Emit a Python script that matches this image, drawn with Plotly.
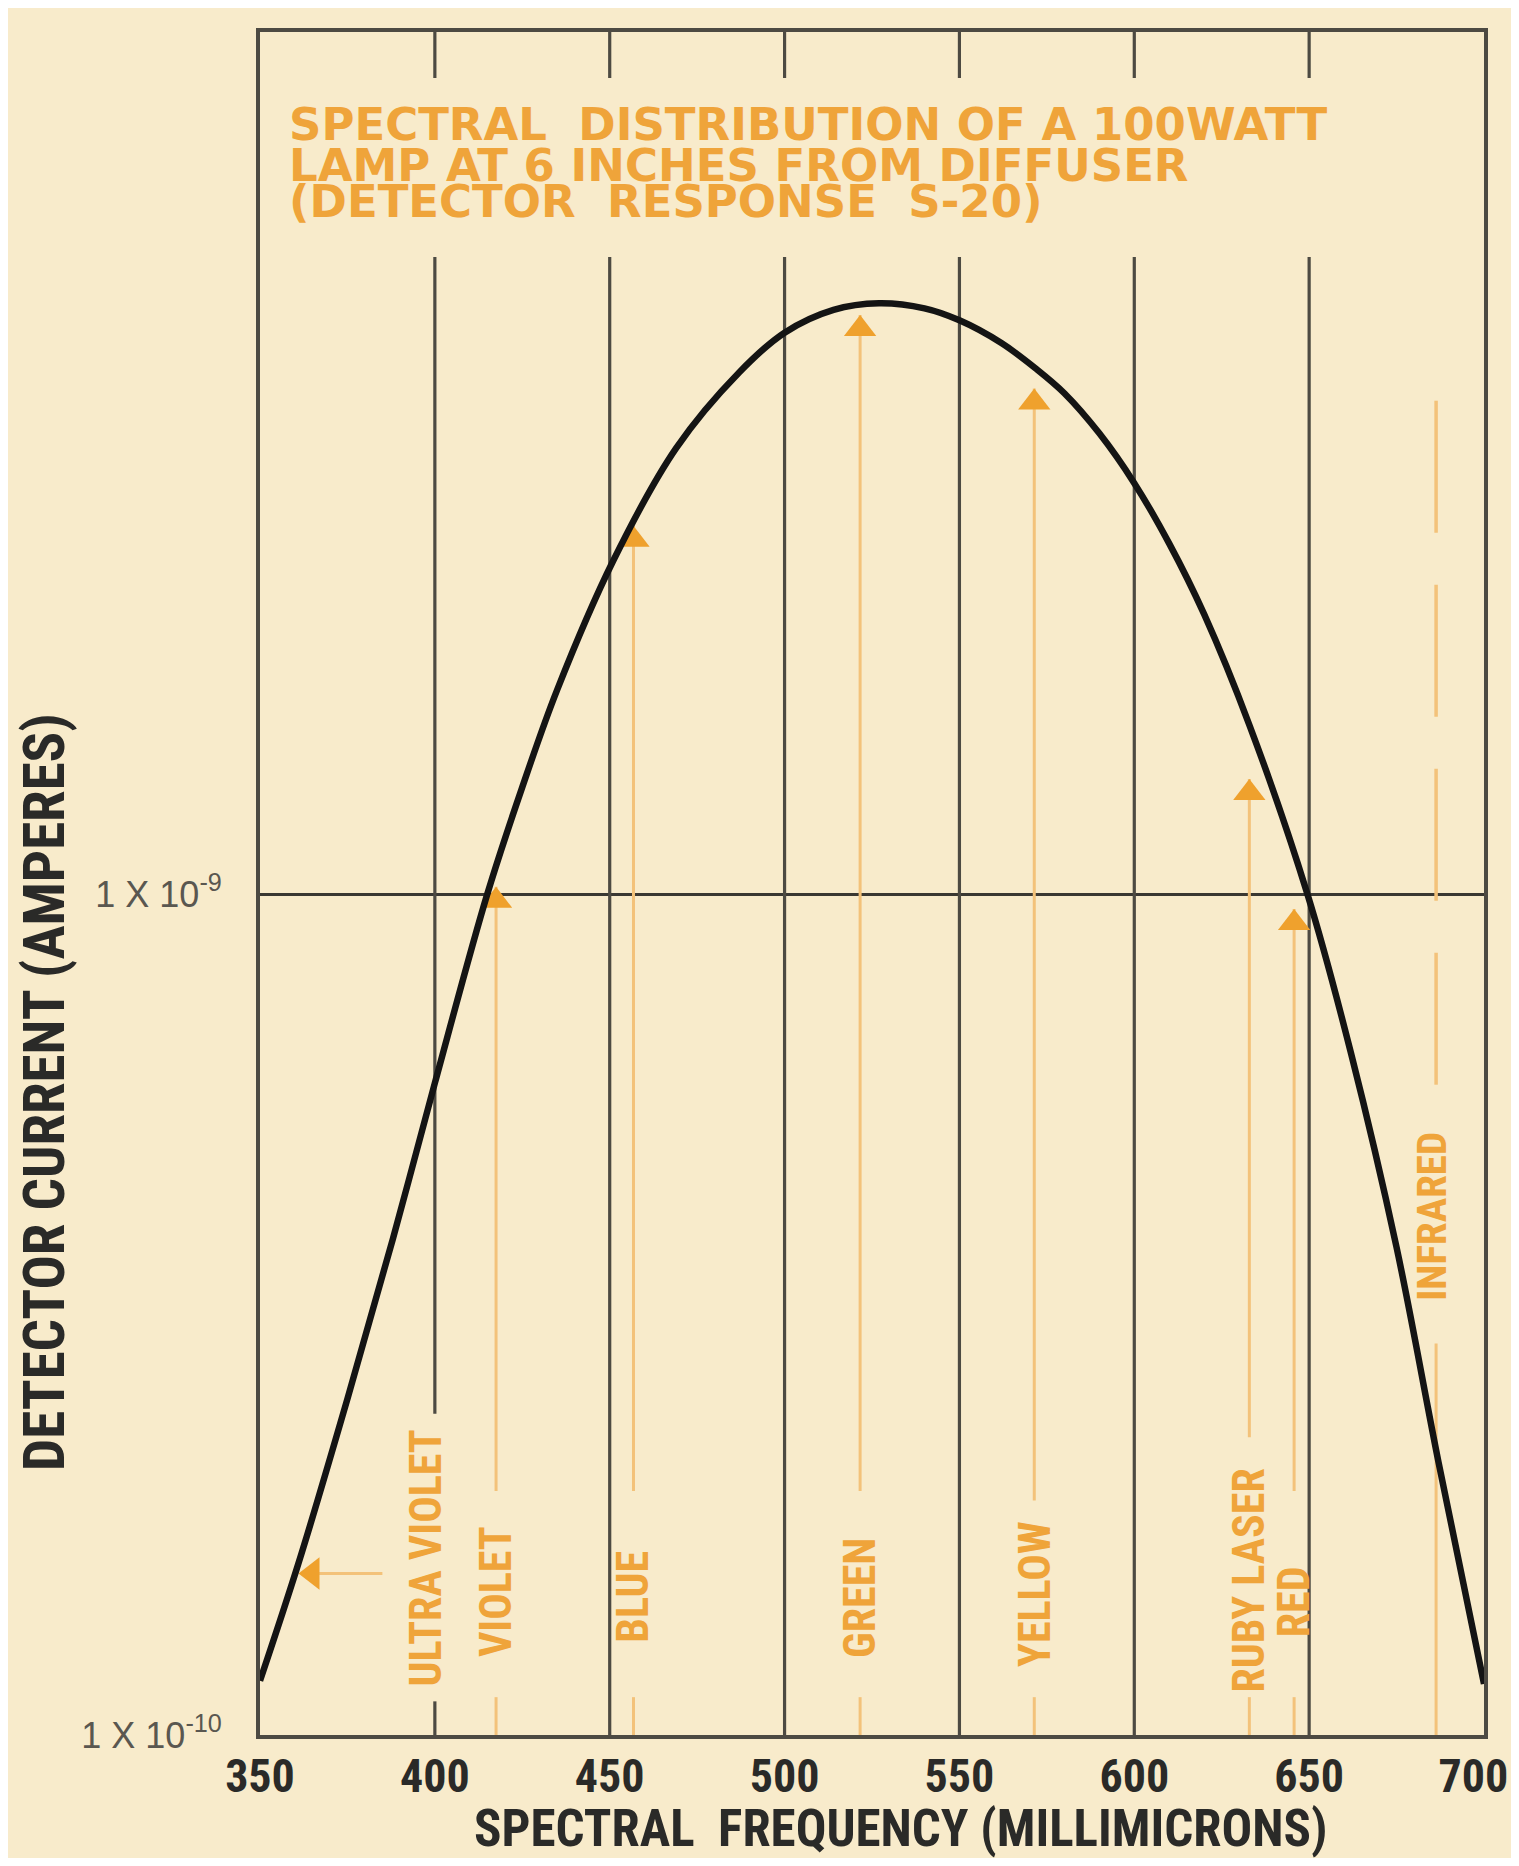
import plotly.graph_objects as go

# ---------------- data ----------------
wavelength_nm = [350, 361, 375, 388, 400, 415, 425, 435, 451, 469, 487, 500, 514, 527,
                 540, 550, 562, 572, 580, 590, 600, 610, 620, 633, 649.5, 662, 675, 687, 700]
current_a = [1.16e-10, 1.60e-10, 2.51e-10, 3.89e-10, 5.96e-10, 1.00e-9, 1.34e-9,
             1.75e-9, 2.49e-9, 3.39e-9, 4.17e-9, 4.65e-9, 4.95e-9, 5.04e-9, 4.97e-9,
             4.81e-9, 4.52e-9, 4.21e-9, 3.94e-9, 3.53e-9, 3.08e-9, 2.61e-9, 2.15e-9,
             1.585e-9, 1.00e-9, 6.46e-10, 3.80e-10, 2.11e-10, 1.15e-10]

x_ticks = [350, 400, 450, 500, 550, 600, 650, 700]
x_tick_labels = ["350", "400", "450", "500", "550", "600", "650", "700\u00a0\u00a0"]
y_ticks = [1e-10, 1e-9]
y_tick_labels = ["1 X 10<sup>-10</sup>", "1 X 10<sup>-9</sup>"]

band_names = ["VIOLET", "BLUE", "GREEN", "YELLOW", "RUBY LASER", "RED"]
band_nm = [417.5, 456.8, 521.6, 571.4, 632.9, 645.7]
band_tip_a = [1.02e-9, 2.74e-9, 4.88e-9, 3.99e-9, 1.37e-9, 9.6e-10]
band_line_end_a = [1.95e-10, 1.95e-10, 1.95e-10, 1.90e-10, 2.26e-10, 1.95e-10]
band_label_log = [-9.83, -9.835, -9.837, -9.832, -9.816, -9.842]

uv_name = "ULTRA VIOLET"
uv_tip_nm = 361.0
uv_tail_nm = 385.0
uv_level_a = 1.556e-10
uv_label_nm = 397.5
uv_label_log = -9.79

ir_name = "INFRARED"
ir_nm = 686.3
ir_dash_top_a = 3.86e-9
ir_dash_bottom_a = 5.87e-10
ir_lower_top_a = 2.92e-10
ir_label_log = -9.383

title_lines = ["SPECTRAL\u00a0\u00a0DISTRIBUTION OF A 100WATT",
               "LAMP AT 6 INCHES FROM DIFFUSER",
               "(DETECTOR\u00a0\u00a0RESPONSE\u00a0\u00a0S-20)"]

# ---------------- layout constants ----------------
OFF = 8                       # page body margin
W, H = 1519 - OFF, 1866 - 2 * OFF
PLOT_L, PLOT_T = 260, 32      # plot-area corner in page pixels
plot_w, plot_h = 1224, 1703
ML, MT = PLOT_L - OFF, PLOT_T - OFF
MR = W - ML - plot_w
MB = H - MT - plot_h
Y_LOG_RANGE = [-10.0, -7.975]
X_RANGE = [350, 700]
px_per_dec = plot_h / (Y_LOG_RANGE[1] - Y_LOG_RANGE[0])
px_per_nm = plot_w / (X_RANGE[1] - X_RANGE[0])


def pxx(px):  # page x -> paper x
    return (px - PLOT_L) / plot_w


def pxy(py):  # page y -> paper y
    return (PLOT_T + plot_h - py) / plot_h


def paper_to_val(fr):
    return 10 ** (Y_LOG_RANGE[0] + fr * (Y_LOG_RANGE[1] - Y_LOG_RANGE[0]))


BG = "#F8EBCB"
GRID = "#4d4a42"
ORANGE_TXT = "#EFA43A"
ORANGE_LINE = "#F3C27A"
ORANGE_HEAD = "#EFA12D"
COND = "Roboto Condensed, DejaVu Sans Condensed, Liberation Sans Narrow, sans-serif"

y_bot = 10 ** Y_LOG_RANGE[0]
y_top = 10 ** Y_LOG_RANGE[1]
gap_hi = paper_to_val(pxy(78))
gap_lo = paper_to_val(pxy(257))

fig = go.Figure()

# vertical grid lines (broken behind the title block; 400 line broken behind UV label)
for xv in x_ticks[1:-1]:
    segs = [(y_top, gap_hi)]
    if xv == 400:
        segs += [(gap_lo, 10 ** -9.618), (10 ** -9.96, y_bot)]
    else:
        segs += [(gap_lo, y_bot)]
    for a, b in segs:
        fig.add_trace(go.Scatter(x=[xv, xv], y=[a, b], mode="lines",
                                 line=dict(color=GRID, width=3.2),
                                 hoverinfo="skip", showlegend=False))

# band leader lines
lower_start = 10 ** -9.955
for nm, tip, end in zip(band_nm, band_tip_a, band_line_end_a):
    fig.add_trace(go.Scatter(x=[nm, nm], y=[tip, end], mode="lines",
                             line=dict(color=ORANGE_LINE, width=3),
                             hoverinfo="skip", showlegend=False))
    fig.add_trace(go.Scatter(x=[nm, nm], y=[lower_start, y_bot], mode="lines",
                             line=dict(color=ORANGE_LINE, width=3),
                             hoverinfo="skip", showlegend=False))

# infrared dashed line
fig.add_trace(go.Scatter(x=[ir_nm, ir_nm], y=[ir_dash_top_a, ir_dash_bottom_a], mode="lines",
                         line=dict(color=ORANGE_LINE, width=3.5, dash="132px,52px"),
                         hoverinfo="skip", showlegend=False))
fig.add_trace(go.Scatter(x=[ir_nm, ir_nm], y=[ir_lower_top_a, y_bot], mode="lines",
                         line=dict(color=ORANGE_LINE, width=3),
                         hoverinfo="skip", showlegend=False))

# ultra violet leader
fig.add_trace(go.Scatter(x=[uv_tip_nm + 3, uv_tail_nm], y=[uv_level_a, uv_level_a], mode="lines",
                         line=dict(color=ORANGE_LINE, width=3),
                         hoverinfo="skip", showlegend=False))

# arrow heads
HEAD = 28
r = HEAD / 2
head_y = [t * 10 ** (-r / px_per_dec) for t in band_tip_a]
fig.add_trace(go.Scatter(x=band_nm, y=head_y, mode="markers",
                         marker=dict(symbol="triangle-up", size=HEAD, color=ORANGE_HEAD,
                                     line=dict(width=0)),
                         hoverinfo="skip", showlegend=False))
fig.add_trace(go.Scatter(x=[uv_tip_nm + r / px_per_nm], y=[uv_level_a], mode="markers",
                         marker=dict(symbol="triangle-left", size=HEAD, color=ORANGE_HEAD,
                                     line=dict(width=0)),
                         hoverinfo="skip", showlegend=False))

# main curve
fig.add_trace(go.Scatter(x=wavelength_nm, y=current_a, mode="lines",
                         line=dict(color="#141414", width=6.5, shape="spline", smoothing=1.0),
                         hoverinfo="skip", showlegend=False))

annotations = []
label_font = dict(family=COND, size=44, color=ORANGE_TXT, weight="bold")
for name, nm, lg in zip(band_names, band_nm, band_label_log):
    annotations.append(dict(x=nm, y=lg, xref="x", yref="y", text=name, textangle=-90,
                            xanchor="center", yanchor="middle",
                            showarrow=False, font=label_font))
annotations.append(dict(x=uv_label_nm, y=uv_label_log, xref="x", yref="y", text=uv_name,
                        xanchor="center", yanchor="middle",
                        textangle=-90, showarrow=False, font=label_font))
annotations.append(dict(x=ir_nm - 1.0, y=ir_label_log, xref="x", yref="y", text=ir_name,
                        xanchor="center", yanchor="middle",
                        textangle=-90, showarrow=False,
                        font=dict(family=COND, size=41, color=ORANGE_TXT, weight="bold")))

# title block
title_centers_px = [125, 165, 201]
for line, yc in zip(title_lines, title_centers_px):
    annotations.append(dict(x=pxx(288), y=pxy(yc),
                            xref="paper", yref="paper", xanchor="left", yanchor="middle",
                            text=line, showarrow=False, borderpad=0,
                            font=dict(family="DejaVu Sans", size=45, color=ORANGE_TXT,
                                      weight="bold")))

# axis titles
annotations.append(dict(x=pxx(44), y=pxy(1092), xref="paper", yref="paper",
                        xanchor="center", yanchor="middle",
                        text="DETECTOR CURRENT (AMPERES)", textangle=-90, showarrow=False,
                        font=dict(family=COND, size=57, color="#2a2a28", weight="bold")))
annotations.append(dict(x=pxx(901), y=pxy(1828), xref="paper", yref="paper",
                        xanchor="center", yanchor="middle", borderpad=0,
                        text="SPECTRAL\u00a0\u00a0FREQUENCY (MILLIMICRONS)", showarrow=False,
                        font=dict(family=COND, size=51, color="#2a2a28", weight="bold")))

fig.update_layout(
    width=W, height=H,
    margin=dict(l=ML, r=MR, t=MT, b=MB, pad=0, autoexpand=False),
    paper_bgcolor=BG, plot_bgcolor=BG,
    annotations=annotations,
    xaxis=dict(range=X_RANGE, tickvals=x_ticks, ticktext=x_tick_labels, showgrid=False,
               zeroline=False, showline=True, mirror=True, linecolor=GRID, linewidth=4,
               ticks="", ticklabelstandoff=-2, ticklabeloverflow="allow", automargin=False,
               tickfont=dict(family=COND, size=46, color="#2a2a28", weight="bold")),
    yaxis=dict(type="log", range=Y_LOG_RANGE, tickvals=y_ticks, ticktext=y_tick_labels,
               showgrid=True, gridcolor="#3a3832", gridwidth=2.5, zeroline=False,
               showline=True, mirror=True, linecolor=GRID, linewidth=4, ticks="",
               ticklabelstandoff=27, automargin=False,
               tickfont=dict(family="Liberation Sans, Arial, sans-serif", size=36,
                             color="#5a5750")),
)

fig.write_html("out.html")
